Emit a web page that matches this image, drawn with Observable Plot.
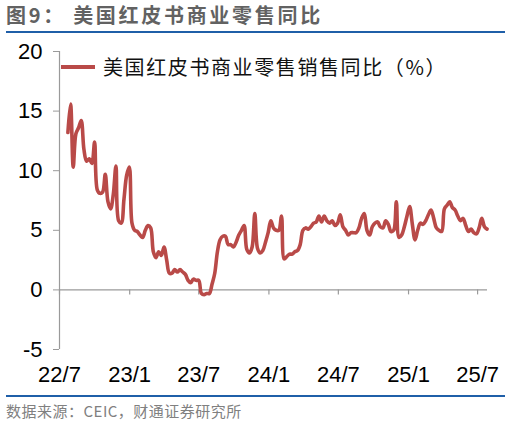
<!DOCTYPE html>
<html><head><meta charset="utf-8">
<script src="https://cdn.jsdelivr.net/npm/d3@7"></script>
<script src="https://cdn.jsdelivr.net/npm/@observablehq/plot@0.6"></script>
<style>
html,body{margin:0;padding:0;background:#fff;}
body{width:510px;height:426px;overflow:hidden;position:relative;font-family:"Noto Sans CJK SC","Noto Sans",sans-serif;}
#title{position:absolute;left:6px;top:0;width:499px;height:31px;border-bottom:2px solid #1f5fa8;}
#title span{position:absolute;left:0;top:2px;font-size:20px;line-height:26px;font-weight:bold;color:#626262;letter-spacing:2.7px;white-space:nowrap;}
#chart{position:absolute;left:0;top:33px;}
#footer{position:absolute;left:6px;top:395px;width:499px;border-top:2px solid #1f5fa8;}
#footer span{position:absolute;left:0;top:4px;font-size:15px;line-height:20px;color:#808080;letter-spacing:0.5px;white-space:nowrap;}
#legend{position:absolute;left:61px;top:54px;height:26px;white-space:nowrap;}
#legend i{position:absolute;left:0;top:11px;width:34px;height:4px;background:#b94a48;}
#legend span{position:absolute;left:42px;top:0;font-size:20px;line-height:26px;color:#111;letter-spacing:1.6px;}
</style></head><body>
<div id="title"><span>图9： 美国红皮书商业零售同比</span></div>
<div id="chart"></div>
<div id="legend"><i></i><span>美国红皮书商业零售销售同比（%）</span></div>
<div id="footer"><span>数据来源：CEIC，财通证券研究所</span></div>
<script>
// Weekly series, first week ending 2022-07-23
const firstWeek = "2022-07-23";
const retailYoY = [
 13.2,15.6,10.3,13.1,13.6,14.2,11.8,10.8,11.0,10.6,
 12.4,8.4,8.1,8.2,9.7,7.4,6.8,8.0,10.4,5.8,
 5.6,7.6,9.6,10.3,5.6,5.0,4.9,4.6,4.4,5.0,
 5.4,5.2,3.2,2.7,3.2,2.9,3.6,2.5,1.4,1.4,
 1.7,1.5,1.7,1.5,1.3,0.8,0.6,0.9,0.8,0.8,
 -0.3,-0.4,-0.3,-0.3,0.5,1.4,3.2,4.2,4.5,4.5,
 3.8,3.8,3.6,4.0,4.6,5.0,5.4,3.4,3.1,3.6,
 6.4,3.5,3.1,3.3,4.0,4.8,5.8,5.2,5.0,5.0,
 6.2,2.6,2.8,3.0,3.0,3.2,3.3,3.8,5.0,5.2,
 5.1,5.3,5.6,5.7,6.2,5.7,6.2,5.8,5.6,5.8,
 5.4,5.6,6.3,5.3,5.0,4.6,4.8,4.8,4.8,5.2,
 6.0,6.4,5.0,4.6,5.3,5.6,5.7,5.3,5.2,5.8,
 5.5,4.9,5.0,7.4,4.4,4.6,5.3,6.2,7.0,5.5,
 4.2,5.0,5.6,5.5,5.8,6.3,6.7,6.0,5.2,5.0,
 4.9,6.8,7.1,7.4,6.9,6.7,6.2,5.8,6.0,5.4,
 4.9,5.1,4.8,4.7,5.2,6.0,5.3,5.1
];
const xTickDates = ["2022-07-01","2023-01-01","2023-07-01","2024-01-01","2024-07-01","2025-01-01","2025-07-01"];
const xTickLabels = ["22/7","23/1","23/7","24/1","24/7","25/1","25/7"];
const yTicks = [-5,0,5,10,15,20];
const xDomain = ["2022-07-01","2025-07-27"];

const start = new Date(firstWeek + "T00:00:00Z");
const data = retailYoY.map((v, i) => ({date: d3.utcDay.offset(start, 7 * i), v}));
const tickDates = xTickDates.map(d => new Date(d + "T00:00:00Z"));
const labelMap = new Map(tickDates.map((d, i) => [+d, xTickLabels[i]]));
const axisGrey = "#9a9a9a";

const plot = Plot.plot({
  width: 510,
  height: 363,
  marginLeft: 59,
  marginRight: 23,
  marginTop: 18,
  marginBottom: 47,
  style: {fontFamily: "'Liberation Sans', Arial, sans-serif", fontSize: "22px", color: "#000", background: "transparent"},
  x: {type: "utc", domain: xDomain.map(d => new Date(d + "T00:00:00Z"))},
  y: {domain: [-5, 20]},
  marks: [
    Plot.ruleX([tickDates[0]], {y1: -5, y2: 20, stroke: axisGrey, strokeWidth: 1.2}),
    Plot.ruleY([0], {stroke: axisGrey, strokeWidth: 1.2}),
    Plot.ruleX(tickDates, {x: d => d, y1: 0, y2: 0, insetBottom: -5, stroke: axisGrey, strokeWidth: 1.2}),
    Plot.axisY({ticks: yTicks, tickSize: 6, tickPadding: 11, stroke: axisGrey, fill: "#000", fontSize: 22, label: null, tickFormat: d => String(d)}),
    Plot.axisX({ticks: tickDates, tickSize: 0, tickPadding: 17, fill: "#000", fontSize: 22, label: null, tickFormat: d => labelMap.get(+d)}),
    Plot.line(data, {x: "date", y: "v", stroke: "#b94a48", strokeWidth: 3.6, curve: "catmull-rom", strokeLinejoin: "round"})
  ]
});
document.getElementById("chart").appendChild(plot);
</script>
</body></html>
